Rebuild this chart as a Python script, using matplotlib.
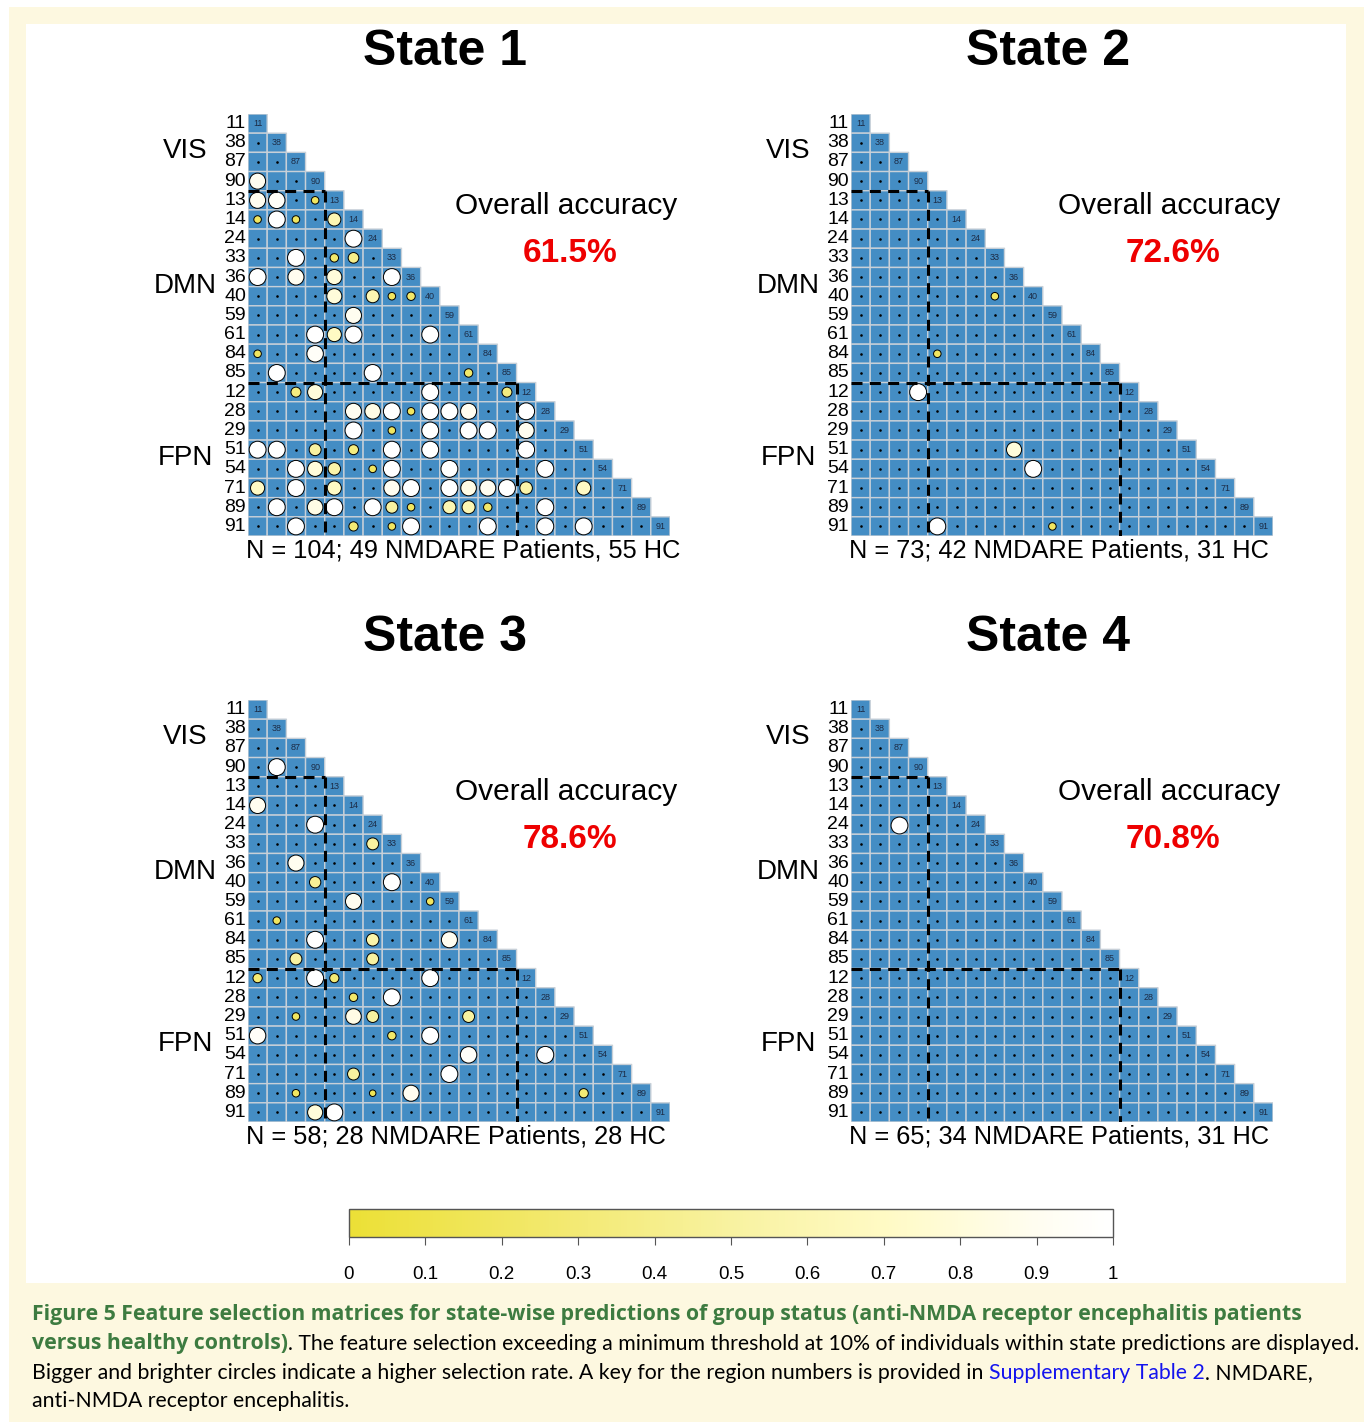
import numpy as np
import matplotlib.pyplot as plt
from matplotlib.colors import LinearSegmentedColormap, ListedColormap, Normalize
from matplotlib.cm import ScalarMappable
from matplotlib.patches import Rectangle

W, H, DPI = 1364, 1422, 100

# region order along both axes of every matrix
regions = ['11', '38', '87', '90',
           '13', '14', '24', '33', '36', '40', '59', '61', '84', '85',
           '12', '28', '29', '51', '54', '71', '89', '91']
group_names = ['VIS', 'DMN', 'FPN']
group_sizes = [4, 10, 8]

state_titles = ['State 1', 'State 2', 'State 3', 'State 4']
accuracies = ['61.5%', '72.6%', '78.6%', '70.8%']
sample_texts = ['N = 104; 49 NMDARE Patients, 55 HC',
                'N = 73; 42 NMDARE Patients, 31 HC',
                'N = 58; 28 NMDARE Patients, 28 HC',
                'N = 65; 34 NMDARE Patients, 31 HC']

# selection rates above threshold: (row region, column region, rate)
state1 = [('90', '11', 0.9),
          ('13', '11', 0.9), ('13', '38', 0.95), ('13', '90', 0.2),
          ('14', '11', 0.2), ('14', '38', 1.0), ('14', '87', 0.2), ('14', '13', 0.6),
          ('24', '14', 1.0),
          ('33', '87', 1.0), ('33', '13', 0.25), ('33', '14', 0.4),
          ('36', '11', 1.0), ('36', '87', 0.9), ('36', '13', 0.8), ('36', '33', 1.0),
          ('40', '13', 0.8), ('40', '24', 0.6), ('40', '33', 0.2), ('40', '36', 0.25),
          ('59', '14', 0.9),
          ('61', '90', 1.0), ('61', '13', 0.7), ('61', '14', 1.0), ('61', '40', 1.0),
          ('84', '11', 0.2), ('84', '90', 0.95),
          ('85', '38', 1.0), ('85', '24', 1.0), ('85', '61', 0.25),
          ('12', '87', 0.35), ('12', '90', 0.8), ('12', '40', 1.0), ('12', '85', 0.35),
          ('28', '14', 0.9), ('28', '24', 0.85), ('28', '33', 1.0), ('28', '36', 0.2),
          ('28', '40', 1.0), ('28', '59', 1.0), ('28', '61', 0.9), ('28', '12', 1.0),
          ('29', '14', 1.0), ('29', '33', 0.2), ('29', '40', 1.0), ('29', '61', 1.0),
          ('29', '84', 1.0), ('29', '12', 0.9),
          ('51', '11', 1.0), ('51', '38', 1.0), ('51', '90', 0.5), ('51', '14', 0.35),
          ('51', '33', 1.0), ('51', '40', 1.0), ('51', '12', 1.0),
          ('54', '87', 1.0), ('54', '90', 0.8), ('54', '13', 0.55), ('54', '24', 0.2),
          ('54', '33', 1.0), ('54', '59', 1.0), ('54', '28', 1.0),
          ('71', '11', 0.7), ('71', '87', 1.0), ('71', '13', 0.7), ('71', '33', 0.9),
          ('71', '36', 1.0), ('71', '59', 1.0), ('71', '61', 0.85), ('71', '84', 0.9),
          ('71', '85', 1.0), ('71', '12', 0.55), ('71', '51', 0.7),
          ('89', '38', 1.0), ('89', '90', 0.85), ('89', '13', 1.0), ('89', '24', 1.0),
          ('89', '33', 0.5), ('89', '36', 0.2), ('89', '59', 0.6), ('89', '61', 0.6),
          ('89', '84', 0.25), ('89', '28', 1.0),
          ('91', '87', 1.0), ('91', '14', 0.3), ('91', '33', 0.2), ('91', '36', 1.0),
          ('91', '84', 1.0), ('91', '28', 1.0), ('91', '51', 1.0)]

state2 = [('40', '33', 0.2), ('84', '13', 0.2), ('12', '90', 1.0),
          ('51', '36', 0.8), ('54', '40', 1.0), ('91', '13', 1.0), ('91', '59', 0.2)]

state3 = [('90', '38', 1.0), ('14', '11', 0.9), ('24', '90', 1.0), ('33', '24', 0.5),
          ('36', '87', 0.9), ('40', '90', 0.45), ('40', '33', 1.0),
          ('59', '14', 0.9), ('59', '40', 0.2), ('61', '38', 0.2),
          ('84', '90', 1.0), ('84', '24', 0.55), ('84', '59', 0.9),
          ('85', '87', 0.5), ('85', '24', 0.5),
          ('12', '11', 0.3), ('12', '90', 1.0), ('12', '13', 0.3), ('12', '40', 1.0),
          ('28', '14', 0.25), ('28', '33', 1.0),
          ('29', '87', 0.2), ('29', '14', 0.85), ('29', '24', 0.5), ('29', '61', 0.5),
          ('51', '11', 0.95), ('51', '33', 0.25), ('51', '40', 1.0),
          ('54', '61', 0.95), ('54', '28', 1.0),
          ('71', '14', 0.5), ('71', '59', 1.0),
          ('89', '87', 0.2), ('89', '24', 0.15), ('89', '36', 0.9), ('89', '51', 0.3),
          ('91', '90', 0.8), ('91', '13', 1.0)]

state4 = [('24', '87', 1.0)]

states = [state1, state2, state3, state4]

cbar_ticks = [0, 0.1, 0.2, 0.3, 0.4, 0.5, 0.6, 0.7, 0.8, 0.9, 1]
cbar_labels = ['0', '0.1', '0.2', '0.3', '0.4', '0.5', '0.6', '0.7', '0.8', '0.9', '1']

CREAM = '#fdf8e0'
CELL_BLUE = '#448dc4'
GREEN = '#3d7b40'

sel_cmap = LinearSegmentedColormap.from_list(
    'sel', [(0.0, '#ece036'), (0.25, '#f2e86a'), (0.5, '#f8f2a0'),
            (0.7, '#fffac4'), (0.9, '#fffdf0'), (1.0, '#ffffff')])
norm = Normalize(0, 1)

plt.rcParams['font.family'] = ['Liberation Sans', 'DejaVu Sans']

fig = plt.figure(figsize=(W / DPI, H / DPI), dpi=DPI, facecolor='white')
fig.add_artist(Rectangle((9 / W, 0), 1, 1 - 7 / H, transform=fig.transFigure,
                         facecolor=CREAM, edgecolor='none', zorder=-3))
fig.add_artist(Rectangle((26 / W, 1 - 1283 / H), (1346 - 26) / W, (1283 - 24) / H,
                         transform=fig.transFigure, facecolor='white',
                         edgecolor='none', zorder=-2))

n = len(regions)
idx = {r: i for i, r in enumerate(regions)}
cell_px = 422 / n
cell_pt = cell_px * 72 / DPI


def draw_state(ax, sel, title, acc, ntext):
    rows, cols = np.indices((n, n))
    lower = np.ma.masked_where(cols > rows, np.ones((n, n)))
    ax.pcolor(np.arange(n + 1) - 0.5, np.arange(n + 1) - 0.5, lower,
              cmap=ListedColormap([CELL_BLUE]), edgecolors='#c8d0d8', linewidth=1.0)

    # selected connections
    sr = [idx[a] for a, b, v in sel]
    sc = [idx[b] for a, b, v in sel]
    sv = np.array([v for a, b, v in sel])
    chosen = set(zip(sr, sc))

    # small black dots for the rest of the lower triangle
    dr, dc = zip(*[(r, c) for r in range(n) for c in range(r) if (r, c) not in chosen])
    ax.scatter(dc, dr, s=3.5, color='black', linewidths=0, zorder=3)

    sizes = (0.88 * np.sqrt(sv) * cell_pt) ** 2
    ax.scatter(sc, sr, s=sizes, c=sv, cmap=sel_cmap, norm=norm,
               edgecolors='black', linewidths=0.7, zorder=4)

    # region numbers on the diagonal and along the left side
    for i, r in enumerate(regions):
        ax.text(i, i, r, fontsize=6.5, color='#1c2b45', ha='center', va='center')
        ax.text(-0.6, i, r, fontsize=14, ha='right', va='center', clip_on=False)

    # network boundaries
    start = 0
    for k, (g, size) in enumerate(zip(group_names, group_sizes)):
        mid = start + (size - 1) / 2
        ax.text(-3.75, mid - 0.05, g, fontsize=20, ha='center', va='center')
        if k > 0:
            b = start - 0.5
            ax.plot([-0.5, b], [b, b], color='black', lw=2.2, dashes=(3.6, 2.4), zorder=5)
            ax.plot([b, b], [b, n - 0.5], color='black', lw=2.2, dashes=(3.6, 2.4), zorder=5)
        start += size

    ax.text(9.75, -3.75, title, fontsize=36, fontweight='bold', ha='center', va='center')
    ax.text(16.1, 4.3, 'Overall accuracy', fontsize=21.5, ha='center', va='center')
    ax.text(16.3, 6.75, acc, fontsize=24, fontweight='bold', color='#ee0000',
            ha='center', va='center')
    ax.text(-0.6, 22.25, ntext, fontsize=18.3, ha='left', va='center', clip_on=False)

    ax.set_xlim(-0.5, n - 0.5)
    ax.set_ylim(n - 0.5, -0.5)
    ax.axis('off')


panel_pos = [(248, 114), (851, 114), (248, 700), (851, 700)]
for (lx, ty), sel, title, acc, ntext in zip(panel_pos, states, state_titles,
                                             accuracies, sample_texts):
    ax = fig.add_axes([lx / W, 1 - (ty + 422) / H, 422 / W, 422 / H])
    draw_state(ax, sel, title, acc, ntext)

# colour key
cax = fig.add_axes([349 / W, 1 - 1237 / H, (1113 - 349) / W, 28 / H])
cb = fig.colorbar(ScalarMappable(norm=norm, cmap=sel_cmap), cax=cax,
                  orientation='horizontal', ticks=cbar_ticks)
cb.set_ticklabels(cbar_labels)
cb.outline.set_edgecolor('#555555')
cb.outline.set_linewidth(1.0)
cax.tick_params(length=6, width=0.8, color='#555555', pad=15, labelsize=13.5)
for lab in cax.get_xticklabels():
    lab.set_family(['Liberation Sans Narrow', 'Liberation Sans'])

# caption
bg = fig.add_axes([0, 0, 1, 1], zorder=-1)
bg.axis('off')
CAP_FS = 15.3


def caption_line(y_px, parts):
    prev = None
    for text, color, weight in parts:
        fam = ['Open Sans', 'Lato'] if weight == 'bold' else ['Lato', 'DejaVu Sans']
        kw = dict(fontsize=CAP_FS, color=color, fontweight=weight,
                  family=fam, ha='left', va='bottom')
        if prev is None:
            prev = bg.text(32 / W, 1 - y_px / H, text, transform=bg.transAxes, **kw)
        else:
            prev = bg.annotate(text, xy=(1, 0), xycoords=prev, **kw)


caption_line(1325, [('Figure 5 Feature selection matrices for state-wise predictions of group '
                     'status (anti-NMDA receptor encephalitis patients', GREEN, 'bold')])
caption_line(1354, [('versus healthy controls)', GREEN, 'bold'),
                    ('. The feature selection exceeding a minimum threshold at 10% of '
                     'individuals within state predictions are displayed.', 'black', 'normal')])
caption_line(1383, [('Bigger and brighter circles indicate a higher selection rate. A key for '
                     'the region numbers is provided in ', 'black', 'normal'),
                    ('Supplementary Table 2', '#1414ee', 'normal'),
                    ('. NMDARE,', 'black', 'normal')])
caption_line(1411, [('anti-NMDA receptor encephalitis.', 'black', 'normal')])

fig.savefig('out.png', dpi=DPI, facecolor=fig.get_facecolor())
